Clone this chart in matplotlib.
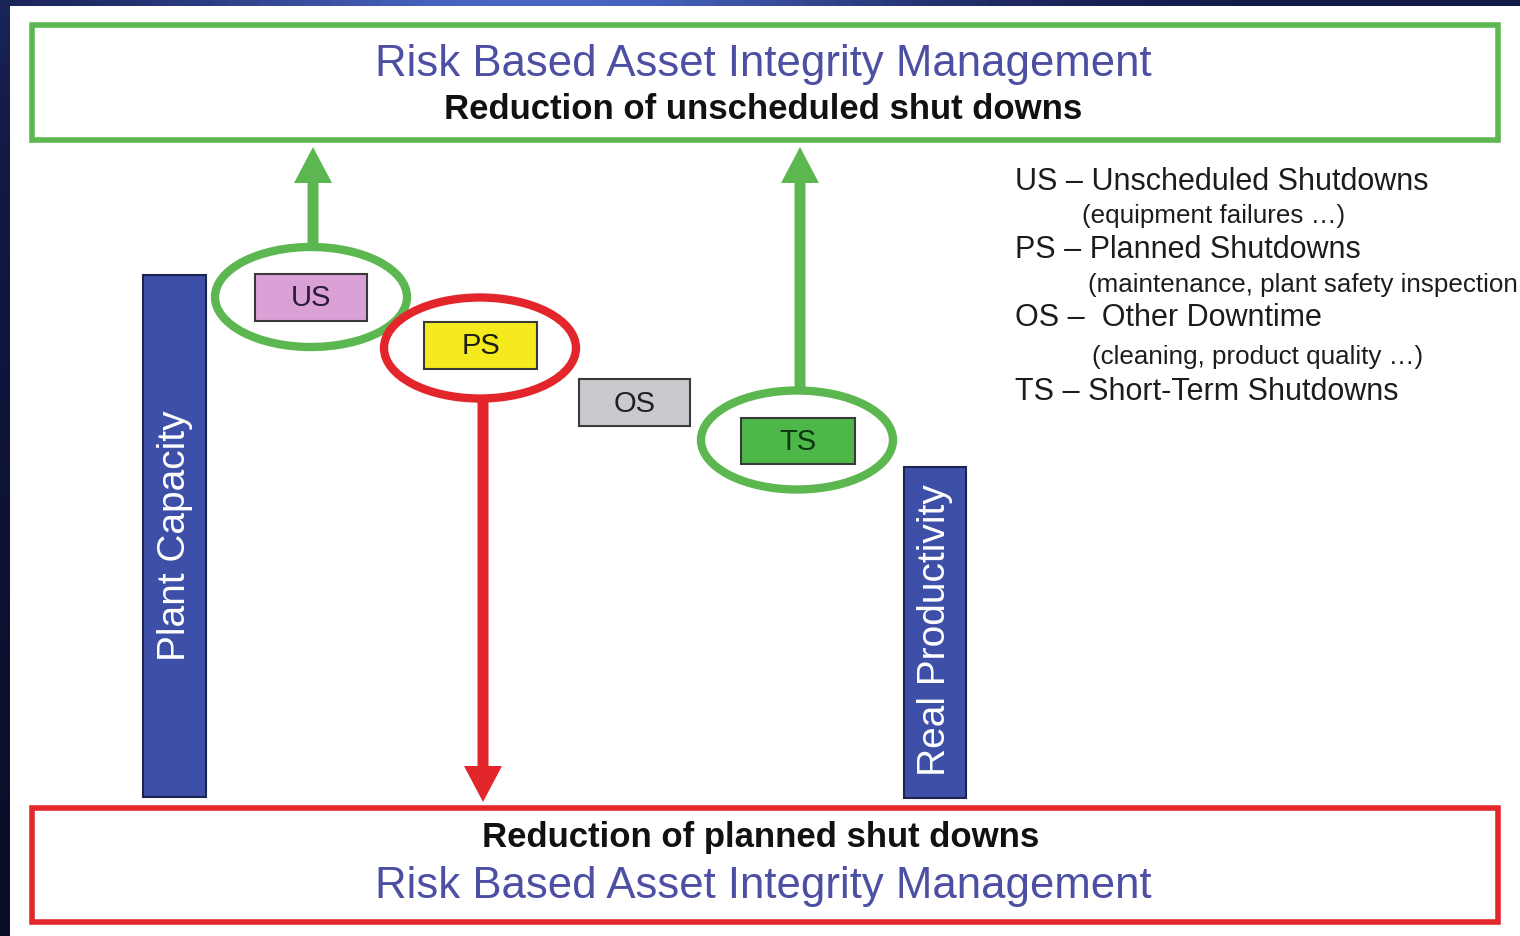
import matplotlib
matplotlib.use("Agg")
import matplotlib.pyplot as plt
import numpy as np
from matplotlib.patches import Rectangle, Ellipse, FancyArrow

plt.rcParams['font.family'] = ['Liberation Sans', 'DejaVu Sans']

# ---- content ----
title_text = "Risk Based Asset Integrity Management"
top_subtitle = "Reduction of unscheduled shut downs"
bottom_subtitle = "Reduction of planned shut downs"
bar_labels = ["Plant Capacity", "Real Productivity"]
box_labels = ["US", "PS", "OS", "TS"]
box_colors = ["#d9a1d6", "#f4ea1e", "#c9cacd", "#4db848"]
box_text_colors = ["#2b1b3a", "#1d1d10", "#1f2028", "#0f3510"]
circled = ["US", "PS", "TS"]
legend_main = ["US \u2013 Unscheduled Shutdowns", "PS \u2013 Planned Shutdowns",
               "OS \u2013  Other Downtime", "TS \u2013 Short-Term Shutdowns"]
legend_sub = ["(equipment failures \u2026)", "(maintenance, plant safety inspection \u2026)",
              "(cleaning, product quality \u2026)", None]

W, H = 1520, 936
fig = plt.figure(figsize=(W / 100, H / 100), dpi=100)
fig.patch.set_facecolor("#0b1236")

# background gradient (dark frame)
bg = fig.add_axes([0, 0, 1, 1])
bg.set_axis_off()
xs = np.linspace(0, 1, 100)[None, :]
ys = np.linspace(0, 1, 60)[:, None]
glow = 0.55 * np.exp(-((xs - 0.35) / 0.25) ** 2) * (1 - ys) ** 8
base = (1 - 0.6 * ys)[..., None] * np.array([0.05, 0.08, 0.22]) + np.array([0.02, 0.02, 0.06])
grad = np.clip(base + glow[..., None] * np.array([0.4, 0.55, 0.9]), 0, 1)
bg.imshow(grad, extent=[0, W, H, 0], aspect='auto')
bg.set_xlim(0, W)
bg.set_ylim(H, 0)

ax = fig.add_axes([0, 0, 1, 1])
ax.set_xlim(0, W)
ax.set_ylim(H, 0)
ax.set_axis_off()
ax.patch.set_alpha(0)

# white panel
ax.add_patch(Rectangle((10, 6), W - 10, H - 6, facecolor="white", edgecolor="none", zorder=0))

GREEN = "#5db750"
RED = "#e2262c"
TITLE_BLUE = "#4d4fa3"
BAR_BLUE = "#3d4fa6"

# top & bottom frames
ax.add_patch(Rectangle((32, 25), 1466, 115, facecolor="none", edgecolor=GREEN, lw=4.0, zorder=2))
ax.add_patch(Rectangle((32, 808), 1466, 114, facecolor="none", edgecolor=RED, lw=4.0, zorder=2))

ax.text(763, 76, title_text, color=TITLE_BLUE, fontsize=31.5, ha="center", va="baseline", zorder=3)
ax.text(763, 119, top_subtitle, color="#111111", fontsize=25, fontweight="bold", ha="center", va="baseline", zorder=3)
ax.text(761, 847, bottom_subtitle, color="#111111", fontsize=25, fontweight="bold", ha="center", va="baseline", zorder=3)
ax.text(763, 898, title_text, color=TITLE_BLUE, fontsize=31.5, ha="center", va="baseline", zorder=3)

# vertical bars
bars = [(143, 275, 63, 522), (904, 467, 62, 331)]
for (x, y, w, h) in bars:
    ax.add_patch(Rectangle((x, y), w, h, facecolor=BAR_BLUE, edgecolor="#1c2450", lw=1.5, zorder=2))
ax.text(175, 536, bar_labels[0], color="white", fontsize=28, rotation=90, ha="center", va="center", zorder=3)
ax.text(935, 630, bar_labels[1], color="white", fontsize=28, rotation=90, ha="center", va="center", zorder=3)

# small boxes
boxes = [(255, 274, 112, 47), (424, 322, 113, 47), (579, 379, 111, 47), (741, 418, 114, 46)]
for (x, y, w, h), lab, c, tc in zip(boxes, box_labels, box_colors, box_text_colors):
    ax.add_patch(Rectangle((x, y), w, h, facecolor=c, edgecolor="#3a3a3a", lw=1.5, zorder=4))
    ax.text(x + w / 2, y + h / 2 + 1, lab, color=tc, fontsize=21, ha="center", va="center", zorder=5)

# ellipses
ells = {"US": ((311, 297), 192, 100, GREEN),
        "PS": ((480, 348), 192, 101, RED),
        "TS": ((797, 440), 192, 99, GREEN)}
for k in circled:
    (cx, cy), ew, eh, ec = ells[k]
    ax.add_patch(Ellipse((cx, cy), ew, eh, facecolor="none", edgecolor=ec, lw=6, zorder=6))

# arrows
arrows = [(313, 247, 147, GREEN), (800, 392, 147, GREEN), (483, 398, 802, RED)]
for x, y0, y1, c in arrows:
    ax.add_patch(FancyArrow(x, y0, 0, y1 - y0, width=11, head_width=38, head_length=36,
                            length_includes_head=True, color=c, lw=0, zorder=3))

# legend text
main_y = [190, 258, 326, 400]
sub_y = [223, 292, 364]
sub_x = [1082, 1088, 1092]
for t, yb in zip(legend_main, main_y):
    ax.text(1015, yb, t, color="#1c1c1c", fontsize=22, ha="left", va="baseline", zorder=3)
for t, yb, xb in zip(legend_sub, sub_y, sub_x):
    if t:
        ax.text(xb, yb, t, color="#1c1c1c", fontsize=18.7, ha="left", va="baseline", zorder=3)

fig.savefig("out.png", dpi=100, facecolor=fig.get_facecolor())
